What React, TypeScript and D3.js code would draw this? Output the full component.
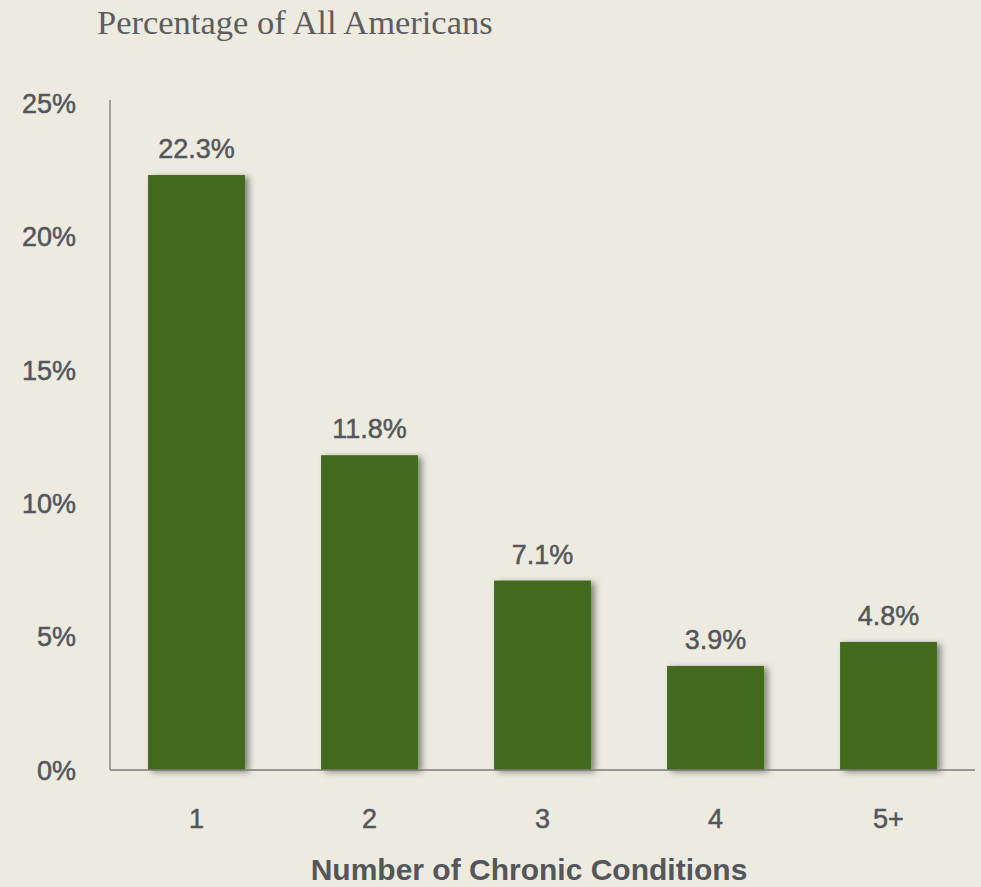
import React from "react";
import * as d3 from "d3";

const categories = ["1", "2", "3", "4", "5+"];
const values = [22.3, 11.8, 7.1, 3.9, 4.8];
const yTicks = [0, 5, 10, 15, 20, 25];
const title = "Percentage of All Americans";
const xTitle = "Number of Chronic Conditions";

const W = 981;
const H = 887;
const x0 = 110;
const x1 = 975;
const yBase = 770;
const yTop = 103;

export default function App() {
  const x = d3.scaleBand<string>().domain(categories).range([x0, x1]).paddingInner(0.44).paddingOuter(0.22);
  const y = d3.scaleLinear().domain([0, 25]).range([yBase, yTop]);
  const textColor = "#53565b";
  const sans = "'Liberation Sans', Arial, sans-serif";
  const heavy = { stroke: textColor, strokeWidth: 0.5 };
  return (
    <svg width={W} height={H} style={{ position: "absolute", left: 0, top: 0, display: "block" }}>
      <defs>
        <filter id="shadow" x="-20%" y="-10%" width="150%" height="130%">
          <feDropShadow dx="4" dy="2" stdDeviation="3" floodColor="#555" floodOpacity="0.7" />
        </filter>
      </defs>
      <rect x={0} y={0} width={W} height={H} fill="#edebe0" />
      <text x={97} y={34} fontFamily="'Liberation Serif', 'Times New Roman', serif" fontSize={34.5} fill="#5b5d61">
        {title}
      </text>
      {yTicks.map((t) => (
        <text key={t} x={76} y={y(t)} dy="0.36em" textAnchor="end" fontFamily={sans} fontSize={27} fill={textColor} {...heavy}>
          {t}%
        </text>
      ))}
      {categories.map((c, i) => (
        <g key={c}>
          <rect
            x={x(c)}
            y={y(values[i])}
            width={x.bandwidth()}
            height={yBase - y(values[i])}
            fill="#426b1a"
            filter="url(#shadow)"
          />
          <text
            x={(x(c) as number) + x.bandwidth() / 2}
            y={y(values[i]) - 17}
            textAnchor="middle"
            fontFamily={sans}
            fontSize={27}
            fill={textColor}
            {...heavy}
          >
            {values[i].toFixed(1)}%
          </text>
          <text
            x={(x(c) as number) + x.bandwidth() / 2}
            y={828}
            textAnchor="middle"
            fontFamily={sans}
            fontSize={27}
            fill={textColor}
            {...heavy}
          >
            {c}
          </text>
        </g>
      ))}
      <line x1={x0} x2={x0} y1={100} y2={yBase} stroke="#8a8a8a" strokeWidth={1.5} />
      <line x1={x0} x2={x1} y1={yBase} y2={yBase} stroke="#7a7a7a" strokeWidth={1.5} />
      <text x={529} y={880} textAnchor="middle" fontFamily={sans} fontWeight="bold" fontSize={30} fill={textColor}>
        {xTitle}
      </text>
    </svg>
  );
}
